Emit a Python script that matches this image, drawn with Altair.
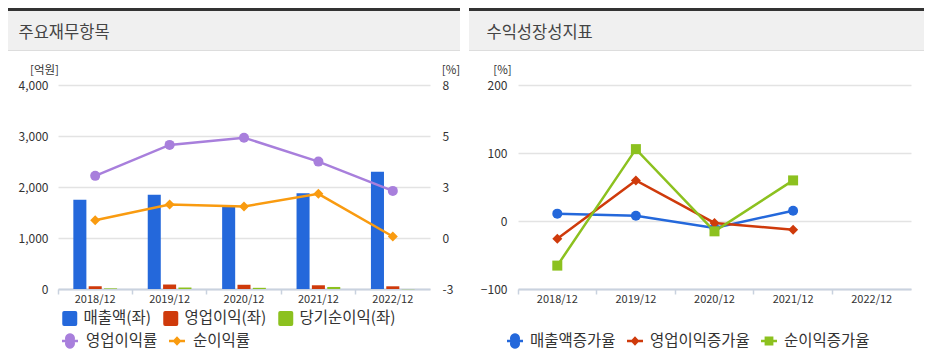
import altair as alt
import pandas as pd

FONT = "Noto Sans CJK KR"

years = ["2018/12", "2019/12", "2020/12", "2021/12", "2022/12"]

# left chart: 주요재무항목
revenue = [1750, 1847, 1612, 1879, 2297]
op_profit = [54, 88, 83, 73, 53]
net_income = [12, 29, 23, 40, -4]
op_margin = [3.1, 4.77, 5.16, 3.87, 2.29]
net_margin = [0.71, 1.55, 1.45, 2.13, -0.17]

# right chart: 수익성장성지표
rev_growth = [10.8, 7.8, -10.3, 15.2, None]
op_growth = [-26.0, 59.7, -2.9, -12.7, None]
ni_growth = [-65.6, 105.7, -15.2, 59.7, None]

bar_series = ["매출액(좌)", "영업이익(좌)", "당기순이익(좌)"]
bar_colors = ["#2468DB", "#CF3A0B", "#8CC11F"]
rate_series = ["영업이익률", "순이익률"]
rate_colors = ["#A87FDC", "#F99B10"]
rate_shapes = ["circle", "diamond"]
growth_series = ["매출액증가율", "영업이익증가율", "순이익증가율"]
growth_colors = ["#2468DB", "#CF3A0B", "#8CC11F"]
growth_shapes = ["circle", "diamond", "square"]

# legend symbols (line + marker)
SYM_CIRCLE = "M-1,-0.17H-0.602A0.625,0.625 0 1,1 0.602,-0.17H1V0.17H0.602A0.625,0.625 0 1,1 -0.602,0.17H-1Z"
SYM_DIAMOND = "M-1,-0.17H-0.41L0,-0.58L0.41,-0.17H1V0.17H0.41L0,0.58L-0.41,0.17H-1Z"
SYM_SQUARE = "M-1,-0.17H-0.55V-0.55H0.55V-0.17H1V0.17H0.55V0.55H-0.55V0.17H-1Z"
SYM_RSQUARE = "M-1,-0.75Q-1,-1 -0.75,-1H0.75Q1,-1 1,-0.75V0.75Q1,1 0.75,1H-0.75Q-1,1 -1,0.75Z"

bar_rows = []
for s, vals in zip(bar_series, [revenue, op_profit, net_income]):
    for y, v in zip(years, vals):
        bar_rows.append({"year": y, "series": s, "value": v})
bar_df = pd.DataFrame(bar_rows)

rate_rows = []
for s, vals in zip(rate_series, [op_margin, net_margin]):
    for y, v in zip(years, vals):
        rate_rows.append({"year": y, "series": s, "value": v})
rate_df = pd.DataFrame(rate_rows)

growth_rows = []
for s, vals in zip(growth_series, [rev_growth, op_growth, ni_growth]):
    for y, v in zip(years, vals):
        if v is not None:
            growth_rows.append({"year": y, "series": s, "value": v})
growth_df = pd.DataFrame(growth_rows)

LABEL_COLOR = "#333333"
DOMAIN_COLOR = "#C9D2DF"
GRID_COLOR = "#E3E3E3"
LEGEND_FS = 15.5
TICK_FS = 12
XLABEL_FS = 11


def xscale():
    return alt.Scale(type="band", domain=years, paddingInner=0, paddingOuter=0)


axis_ticks = alt.Axis(orient="bottom", bandPosition=0, labels=False, ticks=True, tickSize=5,
                      tickColor=DOMAIN_COLOR, tickWidth=1.5, domain=True, domainColor=DOMAIN_COLOR,
                      domainWidth=2, grid=False, title=None)
axis_labels = alt.Axis(orient="bottom", labels=True, ticks=False, domain=False, grid=False,
                       labelAngle=0, labelPadding=4, labelFontSize=XLABEL_FS, labelColor=LABEL_COLOR,
                       labelFont=FONT, title=None)


def header(title, x0, x1, tx):
    base = alt.Chart(pd.DataFrame({"t": [title]}))
    bg = base.mark_rect(color="#F0F0F0").encode(
        x=alt.value(x0), x2=alt.value(x1), y=alt.value(-74), y2=alt.value(-35))
    top = base.mark_rect(color="#333333").encode(
        x=alt.value(x0), x2=alt.value(x1), y=alt.value(-77), y2=alt.value(-74))
    bot = base.mark_rect(color="#DDDDDD").encode(
        x=alt.value(x0), x2=alt.value(x1), y=alt.value(-35), y2=alt.value(-34))
    txt = base.mark_text(align="left", baseline="middle", fontSize=16.5, color="#444444",
                         font=FONT).encode(x=alt.value(tx), y=alt.value(-52), text="t:N")
    return [bg, top, bot, txt]


def title_props(tx):
    return dict(titleAngle=0, titleX=tx, titleY=-15, titleAlign="center", titleBaseline="middle",
                titleFontSize=11.5, titleFontWeight="normal", titleColor=LABEL_COLOR, titleFont=FONT)


def legend_props(lx, ly, size, offset, **kw):
    return dict(orient="none", legendX=lx, legendY=ly, direction="horizontal", title=None,
                symbolSize=size, symbolStrokeWidth=0, symbolOpacity=1, labelFontSize=LEGEND_FS,
                labelFont=FONT, labelColor=LABEL_COLOR, labelOffset=offset, columnPadding=11,
                labelLimit=300, **kw)


# ---------------- left chart ----------------
LW, LH = 372, 204

bars = alt.Chart(bar_df).mark_bar().encode(
    x=alt.X("year:N", scale=xscale(), axis=axis_ticks),
    xOffset=alt.XOffset("series:N", scale=alt.Scale(domain=bar_series, paddingInner=0.15, paddingOuter=1)),
    y=alt.Y("value:Q", scale=alt.Scale(domain=[0, 4000], nice=False),
            axis=alt.Axis(orient="left", values=[0, 1000, 2000, 3000, 4000], format=",d", grid=True,
                          gridColor=GRID_COLOR, gridWidth=1.5, domain=False, ticks=False,
                          labelPadding=10, labelFontSize=TICK_FS, labelColor=LABEL_COLOR, labelFont=FONT,
                          title="[억원]", **title_props(-14))),
    color=alt.Color("series:N", scale=alt.Scale(domain=bar_series, range=bar_colors),
                    legend=alt.Legend(**legend_props(4, 225.25, 225, 6, symbolType=SYM_RSQUARE))),
)

rate_y_scale = alt.Scale(domain=[-3, 8], nice=False, zero=False)
rate_color_scale = alt.Scale(domain=rate_series, range=rate_colors)

rate_lines = alt.Chart(rate_df).mark_line(strokeWidth=2.5).encode(
    x=alt.X("year:N", scale=xscale(), axis=axis_labels),
    y=alt.Y("value:Q", scale=rate_y_scale,
            axis=alt.Axis(orient="right", values=[-3, -0.25, 2.5, 5.25, 8],
                          labelExpr="'' + round(datum.value)", grid=False, domain=False,
                          ticks=False, labelPadding=12, labelFontSize=TICK_FS, labelColor=LABEL_COLOR,
                          labelFont=FONT, title="[%]", **title_props(20.5))),
    color=alt.Color("series:N", scale=rate_color_scale, legend=None),
)
rate_points = alt.Chart(rate_df).mark_point(filled=True, opacity=1, size=100).encode(
    x=alt.X("year:N", scale=xscale()),
    y=alt.Y("value:Q", scale=rate_y_scale),
    color=alt.Color("series:N", scale=rate_color_scale, legend=None),
    shape=alt.Shape("series:N", scale=alt.Scale(domain=rate_series, range=rate_shapes), legend=None),
)
rate_lp = legend_props(4, 247.75, 256, 8)
rate_legend = alt.Chart(rate_df).mark_point(filled=True, opacity=1).encode(
    color=alt.Color("series:N", scale=rate_color_scale, legend=alt.Legend(**rate_lp)),
    shape=alt.Shape("series:N", scale=alt.Scale(domain=rate_series, range=[SYM_CIRCLE, SYM_DIAMOND]),
                    legend=alt.Legend(**rate_lp)),
).transform_filter("false")

rates = alt.layer(rate_lines, rate_points, rate_legend).resolve_scale(
    color="independent", shape="independent")

left = alt.layer(*header("주요재무항목", -50, 402, -39.5), bars, rates).resolve_scale(
    y="independent", color="independent", shape="independent"
).resolve_axis(x="independent").properties(width=LW, height=LH)

# ---------------- right chart ----------------
RW, RH = 393, 204
g_color_scale = alt.Scale(domain=growth_series, range=growth_colors)
g_y_scale = alt.Scale(domain=[-100, 200], nice=False)

g_lines = alt.Chart(growth_df).mark_line(strokeWidth=2.5).encode(
    x=alt.X("year:N", scale=xscale(), axis=axis_ticks),
    y=alt.Y("value:Q", scale=g_y_scale,
            axis=alt.Axis(orient="left", values=[-100, 0, 100, 200], grid=True, gridColor=GRID_COLOR,
                          gridWidth=1.5, domain=False, ticks=False, labelPadding=11,
                          labelFontSize=TICK_FS, labelColor=LABEL_COLOR, labelFont=FONT,
                          title="[%]", **title_props(-16))),
    color=alt.Color("series:N", scale=g_color_scale, legend=None),
)
g_points = alt.Chart(growth_df).mark_point(filled=True, opacity=1, size=100).encode(
    x=alt.X("year:N", scale=xscale(), axis=axis_labels),
    y=alt.Y("value:Q", scale=g_y_scale),
    color=alt.Color("series:N", scale=g_color_scale, legend=None),
    shape=alt.Shape("series:N", scale=alt.Scale(domain=growth_series, range=growth_shapes), legend=None),
)
g_lp = legend_props(-11, 247.75, 256, 7)
g_legend = alt.Chart(growth_df).mark_point(filled=True, opacity=1).encode(
    color=alt.Color("series:N", scale=g_color_scale, legend=alt.Legend(**g_lp)),
    shape=alt.Shape("series:N",
                    scale=alt.Scale(domain=growth_series, range=[SYM_CIRCLE, SYM_DIAMOND, SYM_SQUARE]),
                    legend=alt.Legend(**g_lp)),
).transform_filter("false")

right = alt.layer(*header("수익성장성지표", -49, 406, -31.5), g_lines, g_points, g_legend).resolve_scale(
    color="independent", shape="independent"
).resolve_axis(x="independent").properties(width=RW, height=RH)

chart = alt.hconcat(left, right, spacing=9).properties(
    padding={"left": 0, "top": 0, "right": 0, "bottom": 0}
).configure(font=FONT).configure_view(strokeWidth=0)

chart.save("out.html", embed_options={"renderer": "svg", "actions": False})
